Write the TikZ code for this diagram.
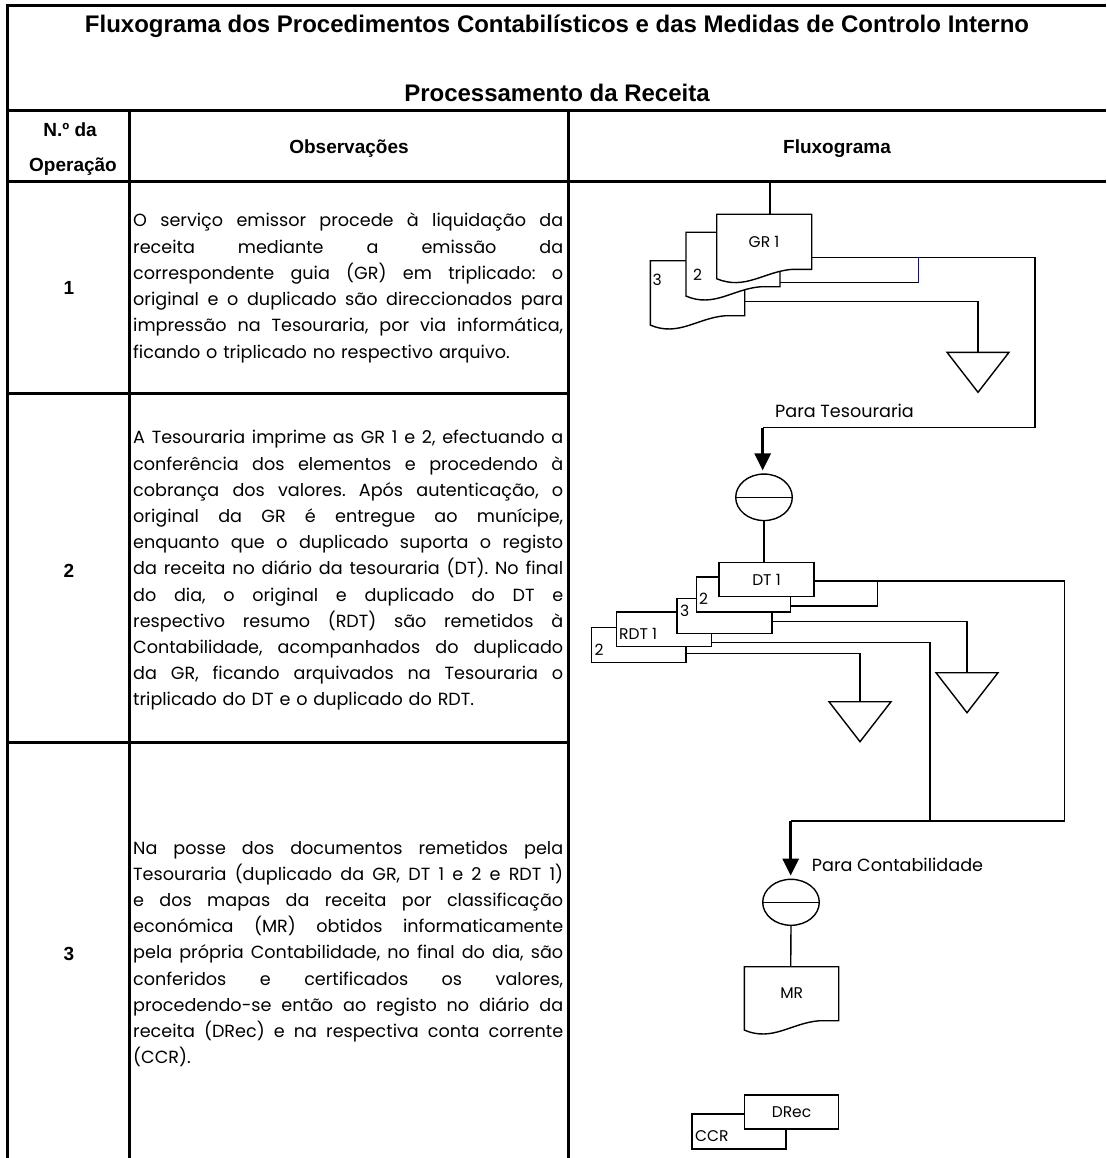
\documentclass[tikz,border=0pt]{standalone}
\usepackage{fontspec}
\setmainfont{Poppins}
\newfontfamily\hdfont{Liberation Sans}
\usetikzlibrary{shapes.geometric,arrows.meta}
\pgfdeclarelayer{bg}
\pgfsetlayers{bg,main}
\newlength\colw
\setlength\colw{430pt}
\newcommand\tight{\lineskiplimit=-50pt\relax}
% justified line: spaces stretched equally
\newcommand\JL[1]{\noindent\hbox to\colw{\vrule width0pt height16pt\relax\spaceskip=\fontdimen2\font plus 1fil\relax #1}\par}
% last line of a paragraph
\newcommand\LL[1]{\noindent\vrule width0pt height16pt\relax #1\par}
% document symbol: left, top, right, bottom(right side)
\newcommand\docpath[4]{\draw[ln,fill=white] (#1,#2) -- (#3,#2) -- (#3,#4) -- ({#1+0.8*(#3-#1)},#4) .. controls ({#1+0.5*(#3-#1)},{#4+2}) and ({#1+0.3*(#3-#1)},{#4+21.4}) .. (#1,{#4+9.4}) -- cycle;}
% archive triangle from its base centre
\newcommand\archive[1]{\draw[ln,fill=white] ([shift={(-31,0)}]#1) -- ([shift={(31,0)}]#1) -- ([shift={(0,40)}]#1) -- cycle;}
\tikzset{
  tbl/.style={line width=3pt},
  ln/.style={line width=1.4pt},
  big/.style={line width=3pt,-{Triangle[width=16pt,length=17pt]}},
  hd/.style={font=\hdfont\bfseries\fontsize{24pt}{28pt}\selectfont, inner sep=0pt},
  hdsm/.style={font=\hdfont\bfseries\fontsize{19pt}{22pt}\selectfont, inner sep=0pt},
  body/.style={font=\fontsize{17.6pt}{26.2pt}\selectfont, text width=430pt, inner sep=0pt, anchor=north west},
  lbl/.style={font=\fontsize{15.5pt}{17pt}\selectfont, inner sep=0pt},
  fl/.style={font=\fontsize{17.6pt}{20pt}\selectfont, inner sep=0pt, anchor=west},
  box/.style={draw, line width=1.4pt, fill=white, inner sep=0pt, minimum width=94.5pt, minimum height=34.5pt, font=\fontsize{15.5pt}{17pt}\selectfont},
  oval/.style={ellipse, draw, line width=1.4pt, fill=white, inner sep=0pt, minimum width=56.6pt, minimum height=46.5pt},
}
\begin{document}
\frenchspacing
\begin{tikzpicture}[x=1pt,y=-1pt]
\useasboundingbox (0,0) rectangle (1106,1158);
\fill[white] (0,0) rectangle (1106,1158);
% ---------- table ----------
\draw[tbl] (7.5,1158) -- (7.5,6) -- (1106,6);
\draw[tbl] (7.5,111) -- (1106,111);
\draw[tbl] (7.5,182) -- (1106,182);
\draw[tbl] (129.5,111) -- (129.5,1158);
\draw[tbl] (568,111) -- (568,1158);
\draw[tbl] (7.5,393) -- (568,393);
\draw[tbl] (7.5,742) -- (568,742);
% ---------- headings ----------
\node[hd, anchor=base] (title) at (557,33) {Fluxograma dos Procedimentos Contabilísticos e das Medidas de Controlo Interno};
\node[hd, anchor=base] (sub) at (557,102) {Processamento da Receita};
\node[hdsm, anchor=base] (nop1) at (70,137) {N.º da};
\node[hdsm, anchor=base] (nop2) at (73,172) {Operação};
\node[hdsm, anchor=base] (obs) at (349,154) {Observações};
\node[hdsm, anchor=base] (flx) at (837,154) {Fluxograma};
\node[hdsm] (n1) at (69,287.5) {1};
\node[hdsm] (n2) at (69,571) {2};
\node[hdsm] (n3) at (69,953.5) {3};
% ---------- observations ----------
\node[body] (p1) at (133,210.8) {\tight
\JL{O serviço emissor procede à liquidação da}
\JL{receita mediante a emissão da}
\JL{correspondente guia (GR) em triplicado: o}
\JL{original e o duplicado são direccionados para}
\JL{impressão na Tesouraria, por via informática,}
\LL{ficando o triplicado no respectivo arquivo.}};
\node[body] (p2) at (133,427.6) {\tight
\JL{A Tesouraria imprime as GR 1 e 2, efectuando a}
\JL{conferência dos elementos e procedendo à}
\JL{cobrança dos valores. Após autenticação, o}
\JL{original da GR é entregue ao munícipe,}
\JL{enquanto que o duplicado suporta o registo}
\JL{da receita no diário da tesouraria (DT). No final}
\JL{do dia, o original e duplicado do DT e}
\JL{respectivo resumo (RDT) são remetidos à}
\JL{Contabilidade, acompanhados do duplicado}
\JL{da GR, ficando arquivados na Tesouraria o}
\LL{triplicado do DT e o duplicado do RDT.}};
\node[body] (p3) at (133,837.8) {\tight
\JL{Na posse dos documentos remetidos pela}
\JL{Tesouraria (duplicado da GR, DT 1 e 2 e RDT 1)}
\JL{e dos mapas da receita por classificação}
\JL{económica (MR) obtidos informaticamente}
\JL{pela própria Contabilidade, no final do dia, são}
\JL{conferidos e certificados os valores,}
\JL{procedendo-se então ao registo no diário da}
\JL{receita (DRec) e na respectiva conta corrente}
\LL{(CCR).}};
% ---------- flowchart: operation 1 ----------
\docpath{650.3}{260.7}{744.7}{315.7}
\node[lbl, anchor=west] (gr3) at (652.5,280) {3};
\docpath{686}{232.3}{780}{286.7}
\node[lbl, anchor=west] (gr2) at (693,274.5) {2};
\docpath{716.7}{214.3}{811.7}{269.3}
\node[lbl] (gr1) at (764,242) {GR 1};
\coordinate (top1) at (770,182);
\coordinate (gr1n) at (770,214.3);
\coordinate (gr1e) at (811.7,257.7);
\coordinate (gr2e) at (780,282.7);
\coordinate (gr3e) at (744.7,301.7);
\coordinate (c1) at (1035,427.7);
\coordinate (a1) at (762.7,427.7);
\coordinate (b1) at (918.3,282.7);
\coordinate (t1) at (978,352.3);
\archive{t1}
\draw[ln] (top1) -- (gr1n);
\draw[ln] (gr1e) -| (c1) -- (a1);
\draw[ln] (gr2e) -- (b1);
\draw[ln, blue] (b1) -- (b1 |- gr1e);
\draw[ln] (gr3e) -| (t1);
\node[fl] (ptes) at (775,411) {Para Tesouraria};
% ---------- operation 2 ----------
\node[oval] (e1) at (764,497.3) {};
\draw[ln] (e1.west) -- (e1.east);
\draw[big, shorten >=3pt] (a1) -- (a1 |- e1.north);
\node[box, minimum width=94.3pt, minimum height=35pt] (rdt2) at (638.85,645.2) {};
\node[lbl, anchor=west] (rdt2l) at (594.5,649.3) {2};
\node[box, minimum width=94.6pt, minimum height=34.7pt] (rdt1) at (664,629.35) {};
\node[lbl, anchor=west] (rdt1l) at (619,633.7) {RDT 1};
\node[box, minimum width=95pt, minimum height=35pt] (dt3) at (724.5,616.2) {};
\node[lbl, anchor=west] (dt3l) at (680,610.7) {3};
\node[box, minimum width=94.4pt, minimum height=35pt] (dt2) at (743.5,594.5) {};
\node[lbl, anchor=west] (dt2l) at (699,599) {2};
\node[box, minimum width=95pt, minimum height=34.4pt] (dt1) at (766.5,579.5) {DT 1};
\draw[ln] (e1.south) -- (e1.south |- dt1.north);
\coordinate (dt1e) at (814,581);
\coordinate (c2) at (1064.3,821);
\coordinate (a2) at (790.7,821);
\coordinate (dt2e) at (790.7,606);
\coordinate (j1) at (877.7,581);
\coordinate (dt3e) at (772,621.7);
\coordinate (t2) at (967,672.7);
\coordinate (rdt1e) at (711.3,642.7);
\coordinate (j2) at (930,821);
\coordinate (rdt2e) at (686,653.3);
\coordinate (t3) at (860,701.7);
\archive{t2}
\archive{t3}
\draw[ln] (dt1e) -| (c2) -- (a2);
\draw[ln] (dt2e) -| (j1);
\draw[ln] (dt3e) -| (t2);
\draw[ln] (rdt1e) -| (j2);
\draw[ln] (rdt2e) -| (t3);
% ---------- operation 3 ----------
\node[oval, minimum height=46pt] (e2) at (791,902.3) {};
\draw[ln] (e2.west) -- (e2.east);
\draw[big, shorten >=3pt] (a2) -- (a2 |- e2.north);
\node[fl] (pcont) at (811.7,865) {Para Contabilidade};
\docpath{744.3}{966.7}{838.7}{1020.7}
\node[lbl] (mr) at (791.7,993.3) {MR};
\coordinate (mrt) at (790.7,966.7);
\draw[ln] (e2.south) -- (mrt);
\node[box, minimum width=94pt, minimum height=35pt] (ccr) at (739,1131.5) {};
\node[lbl, anchor=west] (ccrl) at (695,1136) {CCR};
\node[box, minimum width=94.4pt, minimum height=34pt] (drec) at (791.5,1112) {DRec};
\coordinate (mrc) at (788.7,1000);
\begin{pgfonlayer}{bg}
\draw[ln] (mrc) -- (mrc |- drec.north);
\end{pgfonlayer}
\end{tikzpicture}
\end{document}
